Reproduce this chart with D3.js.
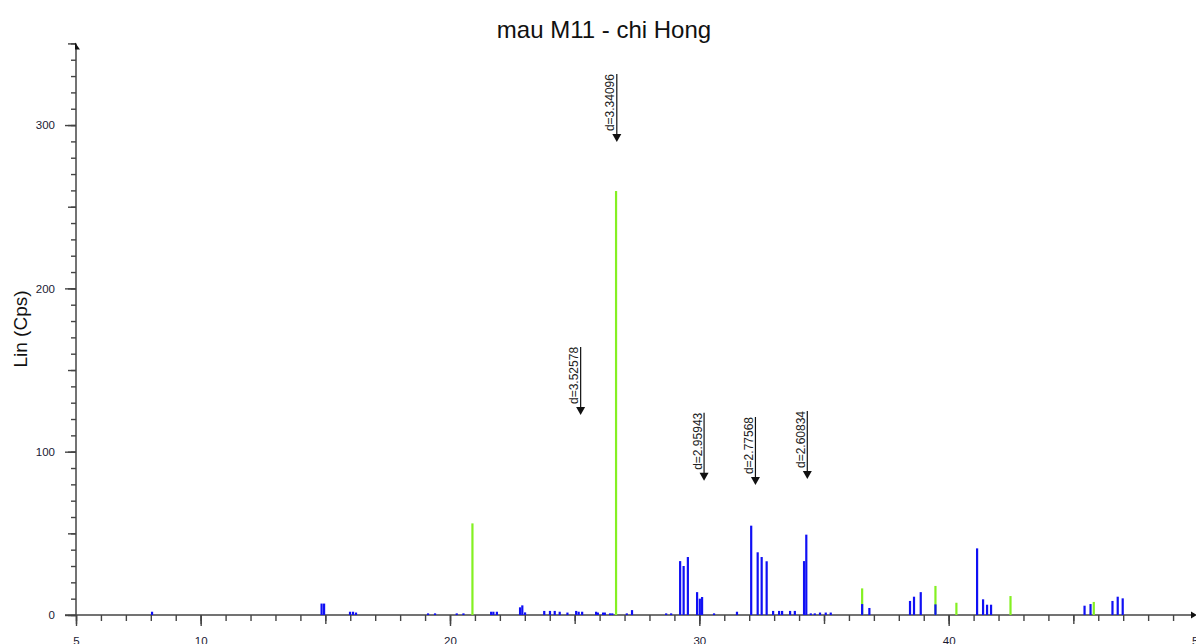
<!DOCTYPE html>
<html>
<head>
<meta charset="utf-8">
<script src="https://cdn.jsdelivr.net/npm/d3@7"></script>
<style>
  body { margin: 0; background: #fff; }
  svg { display: block; font-family: Arial, "Liberation Sans", sans-serif; }
  .axis path.domain { display: none; }
  .axis line { stroke: #444; stroke-width: 1.4; }
  .axis text { fill: #1a1a33; font-size: 11.5px; }
</style>
</head>
<body>
<div id="chart"></div>
<script>
var width = 1196,
    height = 644;

// peaks, 2-theta (deg) and intensity (Cps)
var blueTheta = [8.05, 14.85, 14.95, 15.99, 16.11, 16.23, 19.12, 19.40, 20.27, 20.54,
  21.65, 21.74, 21.88, 22.81, 22.90, 23.01, 23.78, 24.01, 24.20, 24.40, 24.71,
  25.06, 25.16, 25.30, 25.86, 25.93, 26.14, 26.21, 26.42, 26.51, 27.09, 27.30,
  28.67, 28.87, 29.23, 29.37, 29.54, 29.91, 30.02, 30.11, 30.59, 31.51,
  32.08, 32.34, 32.50, 32.70, 32.96, 33.20, 33.32, 33.64, 33.83, 34.20, 34.29,
  34.47, 34.63, 34.84, 35.07, 35.27, 36.53, 36.82, 38.45, 38.61, 38.88, 39.47,
  41.14, 41.38, 41.54, 41.70, 45.45, 45.69, 46.57, 46.78, 46.98];
var blueCps = [2, 7, 7, 2, 2, 1.5, 1, 1, 1, 1,
  2, 2, 2, 4.7, 5.9, 1.6, 2.5, 2.5, 2.5, 2, 1.5,
  2.5, 2, 2, 2, 1.5, 1.5, 1.5, 1, 1, 1, 3,
  1, 1, 33, 30, 35.5, 14, 10, 11, 1, 2,
  54.7, 38.4, 35.5, 32.9, 2.5, 2.5, 2.5, 2.5, 2.5, 33, 49.2,
  1, 1, 1.5, 1.5, 1.5, 6.7, 4.3, 8.6, 11.2, 14, 6.5,
  40.8, 9.6, 6.3, 6.3, 5.7, 6.7, 8.6, 11.2, 10.2];

var greenTheta = [20.90, 26.66, 36.53, 39.47, 40.31, 42.48, 45.82];
var greenCps = [56.1, 259.6, 16.3, 17.8, 7.5, 11.6, 8];

// d-spacing markers
var markLabel = ["d=3.34096", "d=3.52578", "d=2.95943", "d=2.77568", "d=2.60834"];
var markTheta = [26.69, 25.24, 30.19, 32.25, 34.33];
var markCps = [289.6, 122.5, 82.2, 79.6, 83.3];

var xTicksMajor = [5, 10, 20, 30, 40, 50];
var yTicksMajor = [0, 100, 200, 300];

var x = d3.scaleLinear().domain([5, 50]).range([76, 1198]);
var y = d3.scaleLinear().domain([0, 350]).range([615, 43.4]);

var svg = d3.select("#chart").append("svg")
    .attr("width", width)
    .attr("height", height);

// title + y label
svg.append("text")
    .attr("x", 604)
    .attr("y", 38)
    .attr("text-anchor", "middle")
    .style("font-size", "24px")
    .attr("fill", "#111")
    .text("mau M11 - chi Hong");

svg.append("text")
    .attr("transform", "translate(26.5,329) rotate(-90)")
    .attr("text-anchor", "middle")
    .style("font-size", "19px")
    .attr("fill", "#111")
    .text("Lin (Cps)");

// x axis, three tick levels
svg.append("g").attr("class", "axis")
    .attr("transform", "translate(0," + y(0) + ")")
    .call(d3.axisBottom(x).tickValues(d3.range(5, 51, 1)).tickSize(6).tickFormat(""));
svg.append("g").attr("class", "axis")
    .attr("transform", "translate(0," + y(0) + ")")
    .call(d3.axisBottom(x).tickValues(d3.range(5, 51, 5)).tickSize(9).tickFormat(""));
svg.append("g").attr("class", "axis")
    .attr("transform", "translate(0," + y(0) + ")")
    .call(d3.axisBottom(x).tickValues(xTicksMajor).tickSize(11).tickPadding(11).tickFormat(d3.format("d")));

// y axis, three tick levels
svg.append("g").attr("class", "axis")
    .attr("transform", "translate(" + x(5) + ",0)")
    .call(d3.axisLeft(y).tickValues(d3.range(0, 351, 10)).tickSize(5).tickFormat(""));
svg.append("g").attr("class", "axis")
    .attr("transform", "translate(" + x(5) + ",0)")
    .call(d3.axisLeft(y).tickValues(d3.range(0, 351, 50)).tickSize(8).tickFormat(""));
svg.append("g").attr("class", "axis")
    .attr("transform", "translate(" + x(5) + ",0)")
    .call(d3.axisLeft(y).tickValues(yTicksMajor).tickSize(11).tickPadding(10).tickFormat(d3.format("d")));

// axis lines with arrow ends
svg.append("line")
    .attr("x1", 65).attr("x2", 1193)
    .attr("y1", y(0)).attr("y2", y(0))
    .style("stroke", "#444").style("stroke-width", 1.5);
svg.append("path")
    .attr("d", "M1191," + (y(0) - 3.5) + "L1197," + y(0) + "L1191," + (y(0) + 3.5) + "Z")
    .attr("fill", "#111");

svg.append("line")
    .attr("x1", x(5)).attr("x2", x(5))
    .attr("y1", y(0)).attr("y2", y(350))
    .style("stroke", "#444").style("stroke-width", 1.5);
svg.append("path")
    .attr("d", "M" + (x(5) - 1) + "," + (y(350) - 1) + "L" + (x(5) + 4) + "," + (y(350) + 6) + "L" + (x(5) - 1) + "," + (y(350) + 6) + "Z")
    .attr("fill", "#111");

// peaks
svg.selectAll("rect.green")
    .data(greenTheta)
    .enter().append("rect")
    .attr("class", "green")
    .attr("x", function (d) { return x(d) - 1.1; })
    .attr("width", 2.2)
    .attr("y", function (d, i) { return y(greenCps[i]); })
    .attr("height", function (d, i) { return y(0) - y(greenCps[i]); })
    .attr("fill", "#84f022");

svg.selectAll("rect.blue")
    .data(blueTheta)
    .enter().append("rect")
    .attr("class", "blue")
    .attr("x", function (d) { return x(d) - 1.1; })
    .attr("width", 2.2)
    .attr("y", function (d, i) { return y(blueCps[i]); })
    .attr("height", function (d, i) { return y(0) - y(blueCps[i]); })
    .attr("fill", "#1010f4");

// d markers
var marks = svg.selectAll("g.mark")
    .data(markTheta)
    .enter().append("g")
    .attr("class", "mark");

marks.append("line")
    .attr("x1", function (d) { return x(d); })
    .attr("x2", function (d) { return x(d); })
    .attr("y1", function (d, i) { return y(markCps[i]) - 68; })
    .attr("y2", function (d, i) { return y(markCps[i]) - 6; })
    .style("stroke", "#111")
    .style("stroke-width", 1.2);

marks.append("path")
    .attr("d", function (d, i) {
      var px = x(d), py = y(markCps[i]);
      return "M" + (px - 4.5) + "," + (py - 8) + "L" + (px + 4.5) + "," + (py - 8) + "L" + px + "," + py + "Z";
    })
    .attr("fill", "#111");

marks.append("text")
    .attr("transform", function (d, i) {
      return "translate(" + (x(d) - 2.5) + "," + (y(markCps[i]) - 68) + ") rotate(-90)";
    })
    .attr("text-anchor", "end")
    .style("font-size", "12px")
    .attr("fill", "#222")
    .text(function (d, i) { return markLabel[i]; });
</script>
</body>
</html>
